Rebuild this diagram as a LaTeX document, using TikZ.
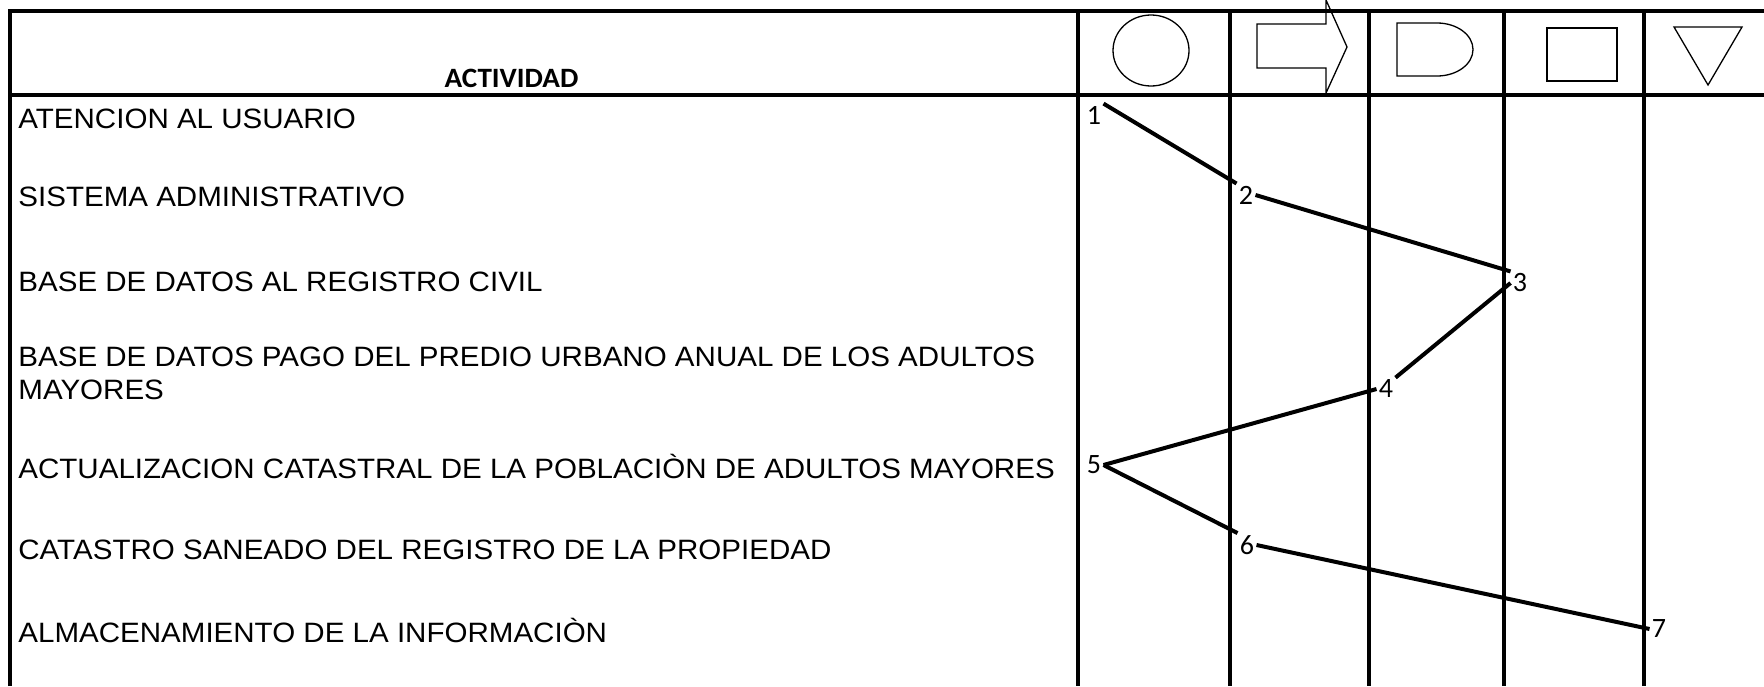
\documentclass[tikz,border=0pt]{standalone}
\usepackage{fontspec}
\setmainfont{Liberation Sans}
\newfontfamily\actfont[FakeStretch=1.055]{Liberation Sans}
\newfontfamily\headfont[FakeStretch=1.04]{Carlito}
\newfontfamily\calibri{Carlito}

\begin{document}
\begin{tikzpicture}[x=0.5pt, y=0.5pt,
    grid/.style={line width=1.6pt},
    sym/.style={line width=0.65pt},
    act/.style={anchor=west, inner sep=0pt, align=left, font=\actfont\fontsize{14}{16.5}\selectfont},
    num/.style={inner sep=1pt, font=\calibri\fontsize{14}{14}\selectfont},
    flow/.style={line width=2pt}]
  \useasboundingbox (0,0) rectangle (1764,-686);

  \draw[grid] (10,-686) -- (10,-11) -- (1764,-11);
  \draw[grid] (10,-95) -- (1764,-95);
  \foreach \x in {1078,1230,1369,1504,1644}
    \draw[grid] (\x,-11) -- (\x,-686);

  \node[font=\headfont\bfseries\fontsize{14}{14}\selectfont] (head) at (511.5,-78) {ACTIVIDAD};

  \draw[sym] (1151,-50.5) ellipse [x radius=38, y radius=35.5];
  \draw[sym] (1257,-24) -- (1326,-24) -- (1326,0) -- (1347,-47) -- (1326,-93) -- (1326,-68) -- (1257,-68) -- cycle;
  \draw[sym] (1397,-23) -- (1437,-23) arc[start angle=90, end angle=-90, x radius=36, y radius=26.5] -- (1397,-76) -- cycle;
  \draw[sym] (1547,-28) rectangle (1617,-81);
  \draw[sym] (1674,-27) -- (1742,-27) -- (1708,-85) -- cycle;

  \node[act] (a1) at (18,-119) {ATENCION AL USUARIO};
  \node[act] (a2) at (18,-197) {SISTEMA ADMINISTRATIVO};
  \node[act] (a3) at (18,-282) {BASE DE DATOS AL REGISTRO CIVIL};
  \node[act] (a4) at (18,-373.5) {BASE DE DATOS PAGO DEL PREDIO URBANO ANUAL DE LOS ADULTOS\\MAYORES};
  \node[act] (a5) at (18,-466.5) {ACTUALIZACION CATASTRAL DE LA POBLACIÒN DE ADULTOS MAYORES};
  \node[act] (a6) at (18,-550) {CATASTRO SANEADO DEL REGISTRO DE LA PROPIEDAD};
  \node[act] (a7) at (18,-630) {ALMACENAMIENTO DE LA INFORMACIÒN};

  \node[num] (n1) at (1094,-115) {1};
  \node[num] (n2) at (1246,-195) {2};
  \node[num] (n3) at (1520,-283) {3};
  \node[num] (n4) at (1386,-389) {4};
  \node[num] (n5) at (1094,-465) {5};
  \node[num] (n6) at (1247,-545) {6};
  \node[num] (n7) at (1659,-629) {7};

  \draw[flow] (n1.north east) to (n2.north west);
  \draw[flow] (n2.east) to (n3.north west);
  \draw[flow] (n3.west) to (n4.north east);
  \draw[flow] (n4.west) to (n5.east);
  \draw[flow] (n5.east) to (n6.north west);
  \draw[flow] (n6.east) to (n7.west);
\end{tikzpicture}
\end{document}
